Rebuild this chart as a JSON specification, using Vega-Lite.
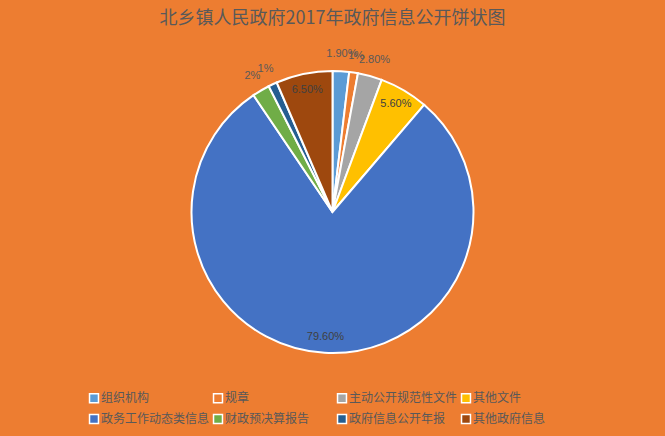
{
  "$schema": "https://vega.github.io/schema/vega-lite/v6.json",
  "width": 665,
  "height": 436,
  "autosize": {"type": "fit", "contains": "padding"},
  "padding": {"top": 10, "left": 0, "right": 0, "bottom": 48},
  "background": "#ED7D31",
  "title": {
    "text": "北乡镇人民政府2017年政府信息公开饼状图",
    "font": "Noto Sans CJK SC",
    "fontSize": 18,
    "fontWeight": "normal",
    "color": "#595959",
    "anchor": "middle",
    "offset": 8
  },
  "data": {
    "values": [
      {"idx": 1, "category": "组织机构", "value": 1.9, "label": "1.90%"},
      {"idx": 2, "category": "规章", "value": 1.0, "label": "1%"},
      {"idx": 3, "category": "主动公开规范性文件", "value": 2.8, "label": "2.80%"},
      {"idx": 4, "category": "其他文件", "value": 5.6, "label": "5.60%"},
      {"idx": 5, "category": "政务工作动态类信息", "value": 79.6, "label": "79.60%"},
      {"idx": 6, "category": "财政预决算报告", "value": 2.0, "label": "2%"},
      {"idx": 7, "category": "政府信息公开年报", "value": 1.0, "label": "1%"},
      {"idx": 8, "category": "其他政府信息", "value": 6.5, "label": "6.50%"}
    ]
  },
  "encoding": {
    "theta": {"field": "value", "type": "quantitative", "stack": true},
    "order": {"field": "idx", "type": "quantitative"}
  },
  "layer": [
    {
      "mark": {"type": "arc", "outerRadius": 141, "stroke": "white", "strokeWidth": 2},
      "encoding": {
        "color": {
          "field": "category",
          "type": "nominal",
          "sort": ["组织机构", "规章", "主动公开规范性文件", "其他文件", "政务工作动态类信息", "财政预决算报告", "政府信息公开年报", "其他政府信息"],
          "scale": {
            "domain": ["组织机构", "规章", "主动公开规范性文件", "其他文件", "政务工作动态类信息", "财政预决算报告", "政府信息公开年报", "其他政府信息"],
            "range": ["#5B9BD5", "#ED7D31", "#A5A5A5", "#FFC000", "#4472C4", "#70AD47", "#255E91", "#9E480E"]
          },
          "legend": {
            "title": null,
            "orient": "none",
            "legendX": 88,
            "legendY": 356,
            "direction": "horizontal",
            "columns": 4,
            "gridAlign": "all",
            "columnPadding": 0,
            "rowPadding": 5,
            "symbolType": "square",
            "symbolSize": 80,
            "symbolStrokeColor": "white",
            "symbolStrokeWidth": 1.5,
            "symbolOpacity": 1,
            "labelFont": "Noto Sans CJK SC",
            "labelFontSize": 12,
            "labelColor": "#595959",
            "labelOffset": 1,
            "labelLimit": 200
          }
        }
      }
    },
    {
      "mark": {"type": "text", "radius": 125, "font": "Liberation Sans", "fontSize": 11, "color": "#404040"},
      "encoding": {
        "text": {"condition": {"test": "datum.value >= 5", "field": "label"}, "value": ""}
      }
    },
    {
      "mark": {"type": "text", "radius": 158, "font": "Liberation Sans", "fontSize": 11, "color": "#595959"},
      "encoding": {
        "text": {"condition": {"test": "datum.value < 5", "field": "label"}, "value": ""}
      }
    }
  ]
}
